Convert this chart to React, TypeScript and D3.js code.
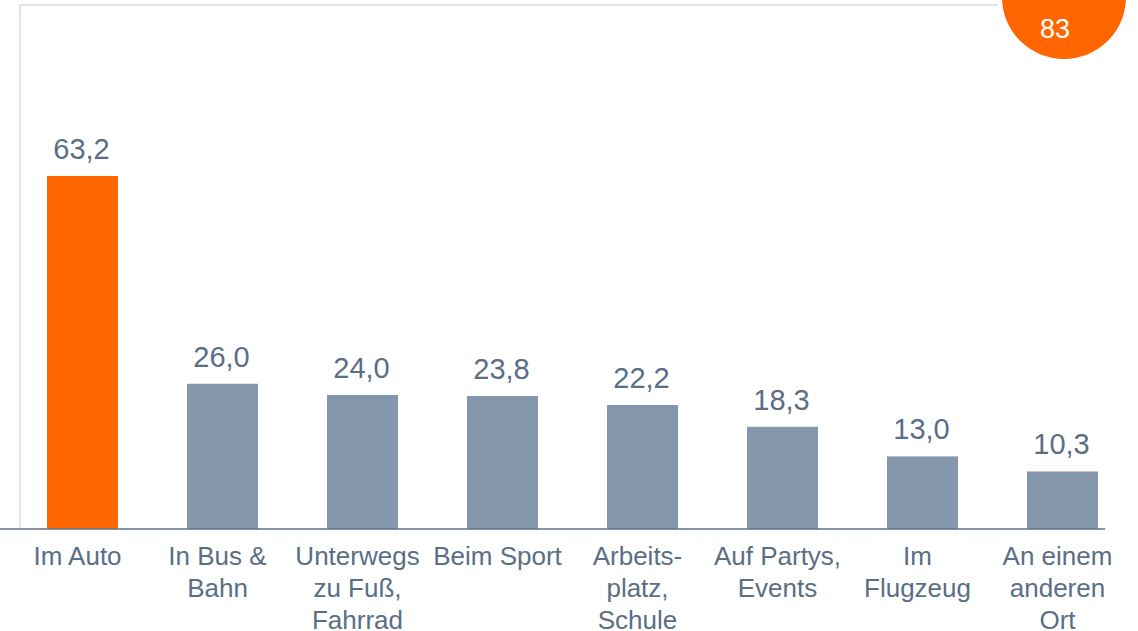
import React from "react";
import * as d3 from "d3";

const categories: string[][] = [
  ["Im Auto"],
  ["In Bus &", "Bahn"],
  ["Unterwegs", "zu Fuß,", "Fahrrad"],
  ["Beim Sport"],
  ["Arbeits-", "platz,", "Schule"],
  ["Auf Partys,", "Events"],
  ["Im", "Flugzeug"],
  ["An einem", "anderen", "Ort"],
];
const values: number[] = [63.2, 26.0, 24.0, 23.8, 22.2, 18.3, 13.0, 10.3];
const highlight: boolean[] = [true, false, false, false, false, false, false, false];
const badgeLabel = "83";

const W = 1138;
const H = 631;
const FONT = "'Liberation Sans', Arial, sans-serif";
const TEXT = "#5a6e86";
const BAR = "#8396ab";
const ORANGE = "#ff6600";

export default function App() {
  const keys = categories.map((c) => c.join(" "));
  const x = d3
    .scaleBand<string>()
    .domain(keys)
    .range([12.5, 1132.5])
    .paddingInner(0.493)
    .paddingOuter(0.2465);
  const y = d3.scaleLinear().domain([0, 63.2]).range([529, 176]);
  const fmt = (v: number) => d3.format(".1f")(v).replace(".", ",");

  return (
    <svg
      width={W}
      height={H}
      style={{ position: "absolute", left: 0, top: 0, background: "#fff" }}
      fontFamily={FONT}
    >
      <line x1={20} y1={5} x2={998} y2={5} stroke="#d3dbe4" strokeWidth={1.5} />
      <line x1={20} y1={5} x2={20} y2={529} stroke="#d3dbe4" strokeWidth={1.5} />
      {values.map((v, i) => {
        const k = keys[i];
        const bx = x(k)!;
        const bw = x.bandwidth();
        return (
          <g key={k}>
            <rect
              x={bx}
              y={y(v)}
              width={bw}
              height={y(0) - y(v)}
              fill={highlight[i] ? ORANGE : BAR}
            />
            <text
              x={bx + bw / 2 - 1}
              y={y(v) - 17}
              textAnchor="middle"
              fontSize={29}
              fill={TEXT}
            >
              {fmt(v)}
            </text>
            <text textAnchor="middle" fontSize={26} fill={TEXT}>
              {categories[i].map((line, j) => (
                <tspan key={j} x={bx + bw / 2 - 5} y={565 + j * 32}>
                  {line}
                </tspan>
              ))}
            </text>
          </g>
        );
      })}
      <line x1={0} y1={y(0)} x2={1105} y2={y(0)} stroke="#5f7188" strokeWidth={1.5} />
      <circle cx={1064} cy={-3} r={62} fill={ORANGE} />
      <text x={1055} y={38} textAnchor="middle" fontSize={27} fill="#fff">
        {badgeLabel}
      </text>
    </svg>
  );
}
